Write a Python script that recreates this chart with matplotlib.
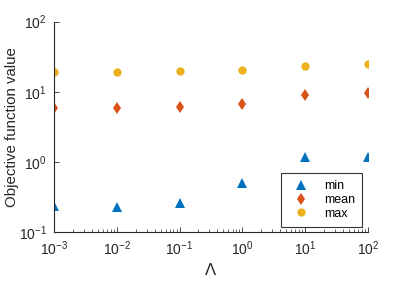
import matplotlib
matplotlib.use("Agg")
import matplotlib.pyplot as plt
from matplotlib.ticker import LogLocator, NullLocator

plt.rcParams['font.family'] = ['Liberation Sans', 'DejaVu Sans']
plt.rcParams['mathtext.fontset'] = 'custom'
plt.rcParams['mathtext.rm'] = 'Liberation Sans'

# data
lam = [1e-3, 1e-2, 1e-1, 1e0, 1e1, 1e2]
obj_min = [0.234, 0.232, 0.266, 0.51, 1.19, 1.19]
obj_mean = [5.9, 5.9, 6.1, 6.7, 9.1, 9.7]
obj_max = [19.5, 19.5, 19.6, 20.3, 23.5, 24.6]

axc = '#262626'
fig = plt.figure(figsize=(4.08, 2.81), dpi=100)
ax = fig.add_axes([0.132, 0.173, 0.77, 0.75])

ax.plot(lam, obj_min, linestyle='none', marker='^', ms=6.5, mew=0, color='#0072BD', label='min')
ax.plot(lam, obj_mean, linestyle='none', marker='d', ms=6.2, mew=0, color='#D95319', label='mean')
ax.plot(lam, obj_max, linestyle='none', marker='o', ms=6, mew=0, color='#EDB120', label='max')

ax.set_xscale('log')
ax.set_yscale('log')
ax.set_xlim(1e-3, 1e2)
ax.set_ylim(1e-1, 1e2)
ax.xaxis.set_minor_locator(LogLocator(base=10, subs=range(2, 10)))
ax.yaxis.set_minor_locator(NullLocator())

for s in ['top', 'right']:
    ax.spines[s].set_visible(False)
for s in ['left', 'bottom']:
    ax.spines[s].set_color(axc)
    ax.spines[s].set_linewidth(0.8)
ax.tick_params(which='major', direction='in', length=3.5, width=0.6, colors=axc, labelsize=10, pad=5)
ax.tick_params(which='minor', direction='in', length=2, width=0.5, colors=axc)

ax.set_xlabel(r'$\Lambda$', fontsize=12, color=axc, family='Liberation Serif', labelpad=4)
ax.set_ylabel('Objective function value', fontsize=10.8, color=axc)
ax.yaxis.set_label_coords(-0.11, 0.5)

leg = ax.legend(loc='lower right', bbox_to_anchor=(0.99, 0.012), fontsize=9, frameon=True, fancybox=False,
                edgecolor='black', handlelength=2.0, handletextpad=0.8, borderpad=0.6, labelspacing=0.15,
                borderaxespad=0.2)
leg.get_frame().set_linewidth(0.8)

fig.savefig('out.png', dpi=100)
